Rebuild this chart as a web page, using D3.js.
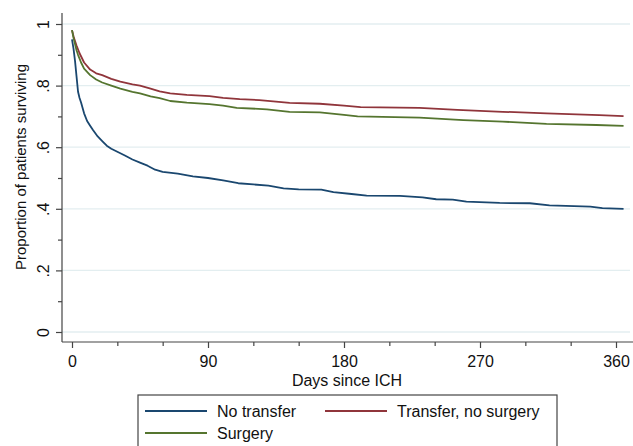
<!DOCTYPE html>
<html>
<head>
<meta charset="utf-8">
<script src="https://cdn.jsdelivr.net/npm/d3@7"></script>
<style>
  body { margin: 0; background: #fff; }
  svg { display: block; font-family: "Liberation Sans", Arial, sans-serif; }
  .grid line { stroke: #e3eef0; stroke-width: 1.3; }
  .axis path, .axis line { stroke: #444; stroke-width: 1.2; }
  .axis text { font-size: 16px; fill: #111; }
</style>
</head>
<body>
<div id="chart"></div>
<script>
// Kaplan-Meier estimates: [day, proportion surviving]
const noTransfer = [
  [0, 0.95], [1, 0.92], [2, 0.88], [3, 0.83], [4, 0.78], [5, 0.76], [6, 0.745],
  [8, 0.71], [10, 0.685], [12, 0.67], [14, 0.655], [17, 0.635], [20, 0.62],
  [23, 0.605], [26, 0.595], [30, 0.585], [35, 0.573], [40, 0.56], [45, 0.55],
  [50, 0.54], [55, 0.527], [60, 0.52], [70, 0.514], [80, 0.505], [90, 0.5],
  [100, 0.492], [110, 0.483], [120, 0.479], [130, 0.475], [140, 0.466],
  [150, 0.463], [165, 0.462], [173, 0.454], [185, 0.448], [195, 0.443],
  [217, 0.442], [232, 0.437], [241, 0.431], [252, 0.43], [261, 0.423],
  [283, 0.419], [303, 0.418], [316, 0.411], [343, 0.407], [351, 0.402],
  [365, 0.4]
];
const transferNoSurgery = [
  [0, 0.98], [1, 0.96], [2, 0.945], [3, 0.93], [5, 0.905], [8, 0.875],
  [12, 0.852], [16, 0.84], [20, 0.834], [26, 0.822], [32, 0.813], [40, 0.804],
  [45, 0.8], [52, 0.79], [58, 0.781], [65, 0.775], [76, 0.77], [91, 0.766],
  [100, 0.76], [111, 0.756], [124, 0.753], [135, 0.748], [144, 0.744],
  [164, 0.741], [180, 0.735], [191, 0.73], [230, 0.728], [255, 0.721],
  [285, 0.715], [314, 0.71], [349, 0.704], [365, 0.701]
];
const surgery = [
  [0, 0.98], [1, 0.955], [2, 0.935], [3, 0.915], [4, 0.9], [6, 0.875],
  [8, 0.855], [12, 0.834], [16, 0.82], [20, 0.81], [26, 0.8], [32, 0.79],
  [40, 0.78], [45, 0.775], [52, 0.765], [58, 0.759], [65, 0.75], [76, 0.745],
  [91, 0.74], [100, 0.735], [109, 0.728], [129, 0.723], [144, 0.715],
  [164, 0.713], [180, 0.705], [189, 0.7], [230, 0.696], [259, 0.688],
  [285, 0.683], [314, 0.676], [347, 0.672], [365, 0.669]
];

const seriesNames = ['No transfer', 'Transfer, no surgery', 'Surgery'];
const seriesColors = ['#1a476f', '#90353b', '#55752f'];
const xTicks = [0, 90, 180, 270, 360];
const xMinorTicks = [30, 60, 120, 150, 210, 240, 300, 330];
const yTicks = [0, 0.2, 0.4, 0.6, 0.8, 1];
const yMinorTicks = [0.1, 0.3, 0.5, 0.7, 0.9];
const yLabels = ['0', '.2', '.4', '.6', '.8', '1'];

const width = 633, height = 446;
const svg = d3.select('#chart').append('svg')
  .attr('width', width).attr('height', height);

const x = d3.scaleLinear().domain([0, 360]).range([72, 616]);
const y = d3.scaleLinear().domain([0, 1]).range([332, 24]);
const axisX = 62, axisY = 342, plotTop = 13, plotRight = 630;

// gridlines
svg.append('g').attr('class', 'grid')
  .selectAll('line').data(yTicks).join('line')
  .attr('x1', axisX).attr('x2', plotRight)
  .attr('y1', d => y(d)).attr('y2', d => y(d));

// curves (the source staircase is fine enough to read as a line)
const line = d3.line()
  .x(d => x(d[0])).y(d => y(d[1]))
  .curve(d3.curveLinear);
const allSeries = [noTransfer, transferNoSurgery, surgery];
svg.append('g').selectAll('path').data(allSeries).join('path')
  .attr('d', line)
  .attr('fill', 'none')
  .attr('stroke', (d, i) => seriesColors[i])
  .attr('stroke-width', 1.8)
  .attr('stroke-linejoin', 'round');

// x axis
const gx = svg.append('g').attr('class', 'axis')
  .attr('transform', `translate(0,${axisY})`);
gx.call(d3.axisBottom(x).tickValues(xTicks).tickSize(6).tickPadding(8).tickSizeOuter(0));
gx.select('.domain').attr('d', `M${axisX},0H${plotRight + 3}`);
svg.append('g').attr('class', 'axis')
  .attr('transform', `translate(0,${axisY})`)
  .call(d3.axisBottom(x).tickValues(xMinorTicks).tickSize(4).tickFormat(''))
  .select('.domain').remove();

// y axis
const gy = svg.append('g').attr('class', 'axis')
  .attr('transform', `translate(${axisX},0)`);
gy.call(d3.axisLeft(y).tickValues(yTicks).tickSize(6).tickSizeOuter(0)
  .tickFormat((d, i) => yLabels[i]));
gy.select('.domain').attr('d', `M0,${plotTop}V${axisY}`);
gy.selectAll('.tick text')
  .attr('x', 0).attr('dy', 0)
  .attr('text-anchor', 'middle')
  .attr('transform', 'translate(-13,0) rotate(-90)');
svg.append('g').attr('class', 'axis')
  .attr('transform', `translate(${axisX},0)`)
  .call(d3.axisLeft(y).tickValues(yMinorTicks).tickSize(4).tickFormat(''))
  .select('.domain').remove();

// axis titles
svg.append('text')
  .attr('x', 347).attr('y', 386)
  .attr('text-anchor', 'middle')
  .style('font-size', '16px').attr('fill', '#111')
  .text('Days since ICH');
svg.append('text')
  .attr('transform', 'translate(26,167) rotate(-90)')
  .attr('text-anchor', 'middle')
  .style('font-size', '15px').attr('fill', '#111')
  .text('Proportion of patients surviving');

// legend
const legend = svg.append('g');
legend.append('rect')
  .attr('x', 138).attr('y', 395).attr('width', 419).attr('height', 60)
  .attr('fill', '#fff').attr('stroke', '#444').attr('stroke-width', 1.2);
const legendPos = [[145, 411], [325, 411], [145, 433]];
seriesNames.forEach((name, i) => {
  const [lx, ly] = legendPos[i];
  legend.append('line')
    .attr('x1', lx).attr('x2', lx + 62).attr('y1', ly).attr('y2', ly)
    .attr('stroke', seriesColors[i]).attr('stroke-width', 1.8);
  legend.append('text')
    .attr('x', lx + 72).attr('y', ly + 6)
    .style('font-size', '16px').attr('fill', '#111')
    .text(name);
});
</script>
</body>
</html>
